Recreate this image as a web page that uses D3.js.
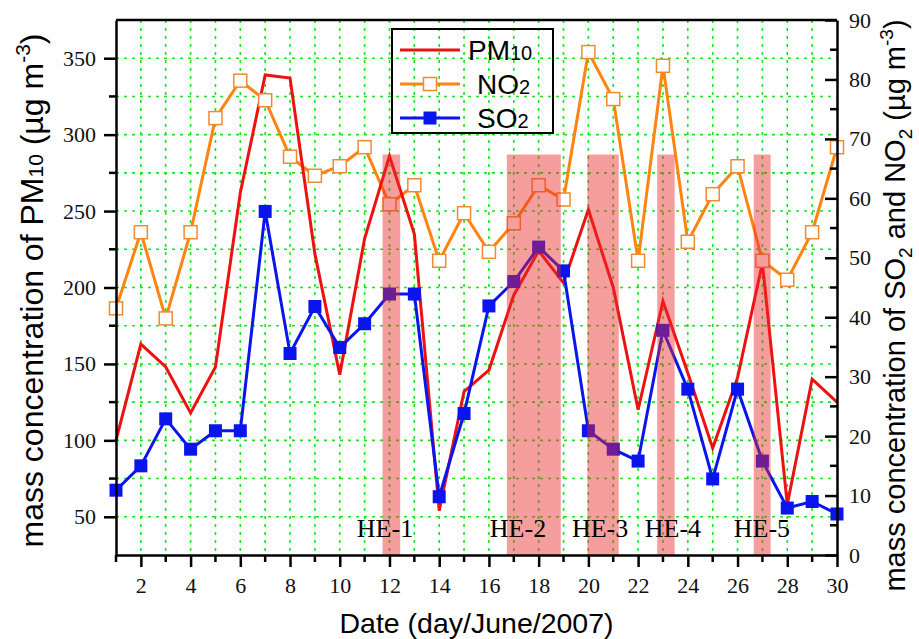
<!DOCTYPE html>
<html>
<head>
<meta charset="utf-8">
<script src="https://cdn.jsdelivr.net/npm/d3@7"></script>
<style>
  body { margin: 0; background: #fff; }
  .tick text { font-family: "Liberation Serif", "Times New Roman", serif; }
</style>
</head>
<body>
<svg id="graph"></svg>
<script>
// Daily values, June 2007
var days = [1,2,3,4,5,6,7,8,9,10,11,12,13,14,15,16,17,18,19,20,21,22,23,24,25,26,27,28,29,30];
var pm10 = [100,163,148,118,148,262,339,337,222,143,232,286,235,54,132,146,195,224,203,251,200,120,191,144,95,141,216,58,140,125];
var no2 = [41.5,54.3,39.8,54.3,73.5,79.8,76.5,67.0,63.8,65.4,68.6,59.0,62.2,49.5,57.5,51.0,55.8,62.2,59.8,84.6,76.7,49.5,82.3,52.7,60.7,65.4,49.5,46.3,54.3,68.6];
var so2 = [10.9,15.0,22.9,17.8,20.9,20.9,57.8,33.9,41.8,34.9,38.9,43.9,43.9,9.8,23.8,41.9,46.0,51.8,47.8,20.9,17.8,15.8,37.8,27.9,12.8,27.9,15.8,7.9,9.0,6.9];

// Haze episodes (day ranges) and where their labels sit
var heNames = ["HE-1","HE-2","HE-3","HE-4","HE-5"];
var heStart = [11.72,16.72,19.96,22.77,26.65];
var heEnd = [12.43,18.89,21.22,23.47,27.33];
var heLabelDay = [11.82,17.17,20.47,23.4,26.98];
var heTop = 287; // in PM10 units

// Tick values
var xTicks = [2,4,6,8,10,12,14,16,18,20,22,24,26,28,30];
var leftTicks = [50,100,150,200,250,300,350];
var rightTicks = [0,10,20,30,40,50,60,70,80,90];

var margin = {top: 20, right: 82, bottom: 84, left: 116},
    width = 919 - margin.left - margin.right,
    height = 639 - margin.top - margin.bottom;

var svg = d3.select("#graph")
  .attr("width", 919)
  .attr("height", 639)
  .append("g")
  .attr("transform", "translate(" + margin.left + "," + margin.top + ")");

var xScale = d3.scaleLinear().domain([1, 30]).range([0, width]);
var yLeft = d3.scaleLinear().domain([25, 375]).range([height, 0]);
var yRight = d3.scaleLinear().domain([0, 90]).range([height, 0]);

var green = "#1ee01e";

// Grid: every day vertically, every 25 (left) horizontally
svg.append("g")
  .selectAll("line")
  .data(d3.range(2, 30))
  .enter().append("line")
  .attr("x1", d => xScale(d)).attr("x2", d => xScale(d))
  .attr("y1", 0).attr("y2", height)
  .attr("stroke", green).attr("stroke-width", 1.6)
  .attr("stroke-dasharray", "3,5");

svg.append("g")
  .selectAll("line")
  .data(d3.range(50, 375, 25))
  .enter().append("line")
  .attr("x1", 0).attr("x2", width)
  .attr("y1", d => yLeft(d)).attr("y2", d => yLeft(d))
  .attr("stroke", green).attr("stroke-width", 1.6)
  .attr("stroke-dasharray", "3,5");

// Lines
var idx = d3.range(days.length);

svg.append("path")
  .datum(idx)
  .attr("fill", "none")
  .attr("stroke", "#ff8410")
  .attr("stroke-width", 3)
  .attr("d", d3.line().x(i => xScale(days[i])).y(i => yRight(no2[i])));

svg.append("path")
  .datum(idx)
  .attr("fill", "none")
  .attr("stroke", "#ee1111")
  .attr("stroke-width", 3)
  .attr("d", d3.line().x(i => xScale(days[i])).y(i => yLeft(pm10[i])));

svg.append("path")
  .datum(idx)
  .attr("fill", "none")
  .attr("stroke", "#0a14ee")
  .attr("stroke-width", 3)
  .attr("d", d3.line().x(i => xScale(days[i])).y(i => yRight(so2[i])));

var sq = 13;

svg.selectAll(".no2")
  .data(idx)
  .enter().append("rect")
  .attr("class", "no2")
  .attr("x", i => xScale(days[i]) - sq / 2)
  .attr("y", i => yRight(no2[i]) - sq / 2)
  .attr("width", sq).attr("height", sq)
  .attr("fill", "#fff")
  .attr("stroke", "#f08a30")
  .attr("stroke-width", 1.5);

svg.selectAll(".so2")
  .data(idx)
  .enter().append("rect")
  .attr("class", "so2")
  .attr("x", i => xScale(days[i]) - sq / 2)
  .attr("y", i => yRight(so2[i]) - sq / 2)
  .attr("width", sq).attr("height", sq)
  .attr("fill", "#0a14ee");

// Episode bands sit on top of everything, semi transparent
svg.append("g")
  .selectAll("rect")
  .data(heNames)
  .enter().append("rect")
  .attr("x", (d, i) => xScale(heStart[i]))
  .attr("width", (d, i) => xScale(heEnd[i]) - xScale(heStart[i]))
  .attr("y", yLeft(heTop))
  .attr("height", height - yLeft(heTop))
  .attr("fill", "rgb(235,40,40)")
  .attr("fill-opacity", 0.45);

svg.append("g")
  .selectAll("text")
  .data(heNames)
  .enter().append("text")
  .attr("x", (d, i) => xScale(heLabelDay[i]))
  .attr("y", height - 18)
  .attr("text-anchor", "middle")
  .style("font-family", "Liberation Serif, serif")
  .style("font-size", "26px")
  .text(d => d);

// Axes
var bottom = svg.append("g")
  .attr("transform", "translate(0," + height + ")")
  .call(d3.axisBottom(xScale).tickValues(xTicks).tickFormat(d3.format("d"))
    .tickSize(12).tickSizeOuter(0).tickPadding(10));
bottom.selectAll(".tick line").attr("stroke-width", 2.5);
bottom.selectAll("g.minor")
  .data(d3.range(1, 30, 2))
  .enter().append("line")
  .attr("x1", d => xScale(d)).attr("x2", d => xScale(d))
  .attr("y1", 0).attr("y2", 7)
  .attr("stroke", "#000").attr("stroke-width", 2.5);

var left = svg.append("g")
  .call(d3.axisLeft(yLeft).tickValues(leftTicks)
    .tickSize(12).tickSizeOuter(0).tickPadding(8));
left.selectAll(".tick line").attr("stroke-width", 2.5);
left.selectAll("g.minor")
  .data(d3.range(75, 375, 50))
  .enter().append("line")
  .attr("x1", -7).attr("x2", 0)
  .attr("y1", d => yLeft(d)).attr("y2", d => yLeft(d))
  .attr("stroke", "#000").attr("stroke-width", 2.5);

var right = svg.append("g")
  .attr("transform", "translate(" + width + ",0)")
  .call(d3.axisRight(yRight).tickValues(rightTicks)
    .tickSize(-12).tickSizeOuter(0).tickPadding(12));
right.selectAll(".tick line").attr("stroke-width", 2.5);
right.selectAll("g.minor")
  .data(d3.range(5, 90, 10))
  .enter().append("line")
  .attr("x1", -7).attr("x2", 0)
  .attr("y1", d => yRight(d)).attr("y2", d => yRight(d))
  .attr("stroke", "#000").attr("stroke-width", 2.5);

[bottom, left, right].forEach(function(g) {
  g.select(".domain").attr("stroke-width", 2.5);
  g.selectAll(".tick text").style("font-size", "22px").attr("fill", "#111");
});

// top frame
svg.append("line")
  .attr("x1", 0).attr("x2", width)
  .attr("y1", 0).attr("y2", 0)
  .attr("stroke", "#000").attr("stroke-width", 2.5);

// Axis titles
var sans = "Liberation Sans, Arial, sans-serif";

svg.append("text")
  .attr("x", width / 2)
  .attr("y", height + 78)
  .attr("text-anchor", "middle")
  .style("font-family", sans)
  .style("font-size", "28.5px")
  .text("Date (day/June/2007)");

var lt = svg.append("text")
  .attr("transform", "translate(-73," + (height / 2 + 3) + ") rotate(-90)")
  .attr("text-anchor", "middle")
  .style("font-family", sans)
  .style("font-size", "32px");
lt.append("tspan").text("mass concentration of PM");
lt.append("tspan").style("font-size", "21px").text("10");
lt.append("tspan").text(" (\u00b5g m");
lt.append("tspan").style("font-size", "21px").attr("dy", -13).text("-3");
lt.append("tspan").attr("dy", 13).text(")");

var rt = svg.append("text")
  .attr("transform", "translate(" + (width + 68) + "," + (height / 2 + 18) + ") rotate(-90)")
  .attr("text-anchor", "middle")
  .style("font-family", sans)
  .style("font-size", "29px");
rt.append("tspan").text("mass concentration of SO");
rt.append("tspan").style("font-size", "19px").attr("dy", 7).text("2");
rt.append("tspan").attr("dy", -7).text(" and NO");
rt.append("tspan").style("font-size", "19px").attr("dy", 7).text("2");
rt.append("tspan").attr("dy", -7).text(" (\u00b5g m");
rt.append("tspan").style("font-size", "19px").attr("dy", -12).text("-3");
rt.append("tspan").attr("dy", 12).text(")");

// Legend
var legend = svg.append("g").attr("transform", "translate(" + (392 - margin.left) + "," + (29 - margin.top) + ")");
legend.append("rect")
  .attr("width", 161).attr("height", 104)
  .attr("fill", "none").attr("stroke", "#000").attr("stroke-width", 2);

var legendItems = [
  {name: "PM", sub: "10", color: "#ee1111", marker: null},
  {name: "NO", sub: "2", color: "#ff8410", marker: "open"},
  {name: "SO", sub: "2", color: "#0a14ee", marker: "filled"}
];

legendItems.forEach(function(it, i) {
  var y = 21 + i * 34;
  legend.append("line")
    .attr("x1", 8).attr("x2", 68).attr("y1", y).attr("y2", y)
    .attr("stroke", it.color).attr("stroke-width", 3);
  if (it.marker) {
    legend.append("rect")
      .attr("x", 38 - sq / 2).attr("y", y - sq / 2)
      .attr("width", sq).attr("height", sq)
      .attr("fill", it.marker == "open" ? "#fff" : it.color)
      .attr("stroke", it.marker == "open" ? "#f08a30" : "none")
      .attr("stroke-width", 1.5);
  }
  var t = legend.append("text")
    .attr("x", i == 0 ? 76 : 85)
    .attr("y", y + 10)
    .style("font-family", sans)
    .style("font-size", "28px");
  t.append("tspan").text(it.name);
  t.append("tspan").style("font-size", "20px").text(it.sub);
});
</script>
</body>
</html>
